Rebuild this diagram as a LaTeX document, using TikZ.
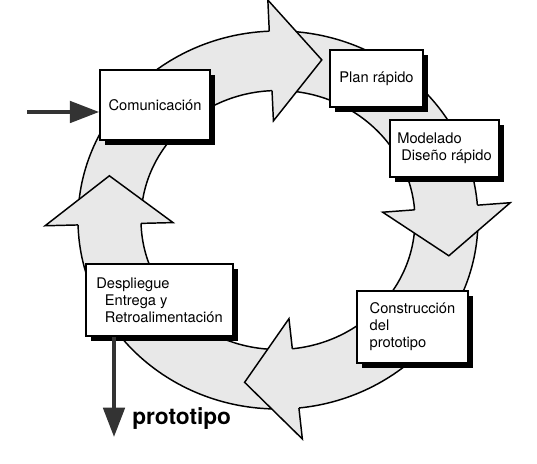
\documentclass[tikz,border=0pt]{standalone}
\usepackage{fontspec}
\setmainfont{TeX Gyre Heros}
\usepackage{tikz}
\usetikzlibrary{positioning,shadows,arrows.meta}
\definecolor{anillogris}{RGB}{232,232,232}
\definecolor{flechagris}{RGB}{51,51,51}

\begin{document}
\begin{tikzpicture}[x=0.75pt,y=0.75pt,
    borde/.style={draw=black,line width=1.1pt},
    fase/.style={draw=black,fill=white,line width=1.2pt,align=left,inner sep=0pt,
      font=\fontsize{11}{12.8}\selectfont,
      drop shadow={shadow xshift=3.6pt,shadow yshift=-3.6pt,fill=black,opacity=1}},
    flecha/.style={draw=flechagris,line width=3pt,-{Triangle[length=22pt,width=16pt]}}]
  \useasboundingbox (0,0) rectangle (537,464);
  \clip (0,0) rectangle (537,464);
  % anillo con las cuatro puntas
  \begin{scope}[shift={(278,244)},yscale=0.945]
    \fill[anillogris,even odd rule] (0,0) circle[radius=200] (0,0) circle[radius=137];
    \draw[borde] (0,0) circle[radius=200] (0,0) circle[radius=137];
    \foreach \a in {92.5,4.5,-84,181.5}{
      \fill[anillogris] (\a:105) -- (\a-17:175) -- (\a:233) -- cycle;
      \draw[borde] (\a:137) -- (\a:105) -- (\a-17:175) -- (\a:233) -- (\a:200);
    }
  \end{scope}
  % fases
  \node[fase,minimum width=82.5pt,minimum height=52.5pt] (com) at (155,359) {Comunicación};
  \node[fase,minimum width=69.75pt,minimum height=42.75pt] (plan) at (376.5,385.5) {Plan rápido};
  \node[fase,minimum width=81.75pt,minimum height=42.75pt] (mod) at (444.5,315.5)
    {Modelado\\\hspace{3pt}Diseño rápido};
  \node[fase,minimum width=83.25pt,minimum height=54pt] (cons) at (412.5,137)
    {Construcción\\del\\prototipo};
  \node[fase,minimum width=110.25pt,minimum height=54pt] (desp) at (159.5,164)
    {Despliegue\\\hspace{6.5pt}Entrega y\\\hspace{6.5pt}Retroalimentación};
  % entrada y salida
  \coordinate (ent) at (27,352);
  \draw[flecha] (ent) -- (ent -| com.west);
  \coordinate (sal) at (114,27);
  \draw[flecha] (desp.south -| sal) -- (sal);
  \node[anchor=base west,inner sep=0pt,font=\fontsize{17}{20}\selectfont\bfseries] (proto) at (132,39) {prototipo};
\end{tikzpicture}
\end{document}
